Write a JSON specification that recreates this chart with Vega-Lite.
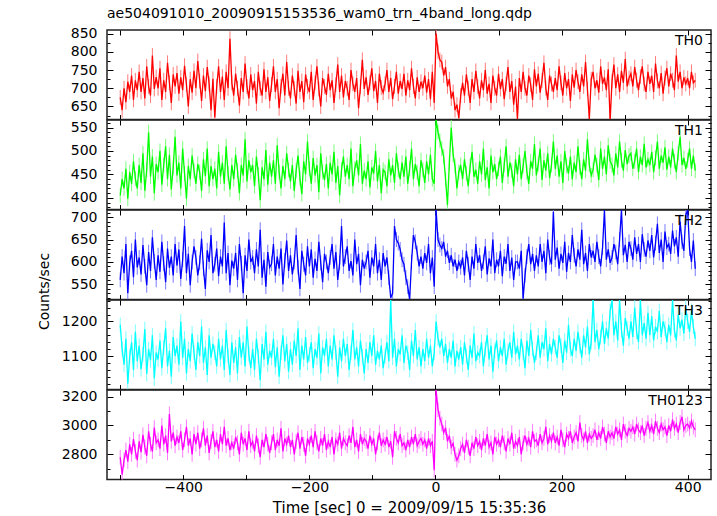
{
"$schema": "https://vega.github.io/schema/vega-lite/v6.json",
"padding": {"left": 36, "top": 5, "right": 5, "bottom": 2},
"spacing": 0,
"bounds": "flush",
"datasets": {"lc": [
{"t":-500,"a":675,"b":405,"c":560,"d":1190,"e":2780},
{"t":-497,"a":640,"b":440,"c":612,"d":1120,"e":2660},
{"t":-494,"a":700,"b":420,"c":575,"d":1075,"e":2760},
{"t":-491,"a":662,"b":462,"c":640,"d":1150,"e":2830},
{"t":-488,"a":718,"b":398,"c":530,"d":1020,"e":2750},
{"t":-485,"a":690,"b":455,"c":598,"d":1098,"e":2870},
{"t":-482,"a":735,"b":430,"c":625,"d":1140,"e":2800},
{"t":-479,"a":668,"b":478,"c":566,"d":1060,"e":2905},
{"t":-476,"a":722,"b":441,"c":650,"d":1170,"e":2820},
{"t":-473,"a":695,"b":420,"c":588,"d":1085,"e":2760},
{"t":-470,"a":745,"b":470,"c":610,"d":1130,"e":2890},
{"t":-467,"a":690,"b":432,"c":572,"d":1062,"e":2815},
{"t":-464,"a":728,"b":495,"c":638,"d":1105,"e":2935},
{"t":-461,"a":672,"b":415,"c":590,"d":1178,"e":2850},
{"t":-458,"a":760,"b":460,"c":548,"d":1048,"e":2790},
{"t":-455,"a":705,"b":540,"c":622,"d":1120,"e":2960},
{"t":-452,"a":680,"b":445,"c":580,"d":1088,"e":2870},
{"t":-449,"a":790,"b":488,"c":655,"d":1160,"e":2820},
{"t":-446,"a":698,"b":410,"c":601,"d":1035,"e":2985},
{"t":-443,"a":731,"b":472,"c":560,"d":1110,"e":2880},
{"t":-440,"a":700,"b":455,"c":615,"d":1090,"e":2900},
{"t":-437,"a":755,"b":500,"c":578,"d":1145,"e":2840},
{"t":-434,"a":668,"b":428,"c":645,"d":1065,"e":3000},
{"t":-431,"a":722,"b":470,"c":596,"d":1125,"e":2870},
{"t":-428,"a":690,"b":510,"c":555,"d":1180,"e":2930},
{"t":-425,"a":770,"b":440,"c":630,"d":1070,"e":2810},
{"t":-422,"a":715,"b":492,"c":587,"d":1115,"e":3080},
{"t":-419,"a":660,"b":418,"c":612,"d":1040,"e":2890},
{"t":-416,"a":738,"b":465,"c":570,"d":1155,"e":2950},
{"t":-413,"a":705,"b":530,"c":640,"d":1100,"e":2860},
{"t":-410,"a":742,"b":448,"c":592,"d":1130,"e":2920},
{"t":-407,"a":685,"b":475,"c":628,"d":1075,"e":2880},
{"t":-404,"a":730,"b":420,"c":562,"d":1200,"e":2960},
{"t":-401,"a":695,"b":505,"c":605,"d":1095,"e":2830},
{"t":-398,"a":762,"b":452,"c":680,"d":1150,"e":2900},
{"t":-395,"a":710,"b":398,"c":575,"d":1050,"e":2990},
{"t":-392,"a":650,"b":468,"c":618,"d":1120,"e":2860},
{"t":-389,"a":725,"b":440,"c":548,"d":1085,"e":2910},
{"t":-386,"a":688,"b":490,"c":600,"d":1165,"e":2800},
{"t":-383,"a":748,"b":458,"c":635,"d":1110,"e":2940},
{"t":-380,"a":700,"b":430,"c":610,"d":1060,"e":2870},
{"t":-377,"a":775,"b":472,"c":570,"d":1140,"e":2950},
{"t":-374,"a":720,"b":455,"c":598,"d":1100,"e":2840},
{"t":-371,"a":665,"b":415,"c":652,"d":1185,"e":2900},
{"t":-368,"a":735,"b":482,"c":585,"d":1080,"e":2980},
{"t":-365,"a":692,"b":446,"c":540,"d":1125,"e":2860},
{"t":-362,"a":758,"b":505,"c":626,"d":1045,"e":2930},
{"t":-359,"a":712,"b":425,"c":600,"d":1160,"e":2810},
{"t":-356,"a":640,"b":468,"c":660,"d":1095,"e":2890},
{"t":-353,"a":726,"b":440,"c":575,"d":1135,"e":2960},
{"t":-350,"a":620,"b":462,"c":595,"d":1110,"e":2850},
{"t":-347,"a":705,"b":420,"c":630,"d":1070,"e":2900},
{"t":-344,"a":760,"b":498,"c":568,"d":1150,"e":2820},
{"t":-341,"a":690,"b":445,"c":612,"d":1090,"e":2940},
{"t":-338,"a":732,"b":475,"c":590,"d":1130,"e":2870},
{"t":-335,"a":668,"b":430,"c":688,"d":1060,"e":2990},
{"t":-332,"a":745,"b":510,"c":575,"d":1175,"e":2860},
{"t":-329,"a":700,"b":452,"c":620,"d":1100,"e":2910},
{"t":-326,"a":836,"b":418,"c":548,"d":1045,"e":2830},
{"t":-323,"a":715,"b":470,"c":603,"d":1140,"e":2880},
{"t":-320,"a":680,"b":440,"c":585,"d":1080,"e":2840},
{"t":-317,"a":740,"b":492,"c":620,"d":1125,"e":2920},
{"t":-314,"a":700,"b":458,"c":560,"d":1050,"e":2880},
{"t":-311,"a":652,"b":410,"c":640,"d":1155,"e":2800},
{"t":-308,"a":728,"b":470,"c":597,"d":1095,"e":2950},
{"t":-305,"a":690,"b":448,"c":530,"d":1140,"e":2870},
{"t":-302,"a":768,"b":525,"c":615,"d":1070,"e":2910},
{"t":-299,"a":705,"b":435,"c":580,"d":1185,"e":2830},
{"t":-296,"a":672,"b":480,"c":650,"d":1105,"e":2960},
{"t":-293,"a":738,"b":455,"c":600,"d":1065,"e":2860},
{"t":-290,"a":695,"b":470,"c":610,"d":1120,"e":2890},
{"t":-287,"a":720,"b":425,"c":575,"d":1060,"e":2820},
{"t":-284,"a":658,"b":488,"c":628,"d":1150,"e":2930},
{"t":-281,"a":745,"b":450,"c":590,"d":1100,"e":2860},
{"t":-278,"a":700,"b":395,"c":672,"d":1030,"e":2780},
{"t":-275,"a":680,"b":465,"c":565,"d":1135,"e":2900},
{"t":-272,"a":752,"b":440,"c":605,"d":1090,"e":2850},
{"t":-269,"a":690,"b":502,"c":545,"d":1170,"e":2940},
{"t":-266,"a":730,"b":428,"c":622,"d":1075,"e":2870},
{"t":-263,"a":665,"b":475,"c":588,"d":1115,"e":2810},
{"t":-260,"a":710,"b":445,"c":596,"d":1095,"e":2880},
{"t":-257,"a":760,"b":480,"c":640,"d":1150,"e":2940},
{"t":-254,"a":690,"b":430,"c":570,"d":1068,"e":2830},
{"t":-251,"a":725,"b":512,"c":612,"d":1125,"e":2900},
{"t":-248,"a":645,"b":455,"c":585,"d":1040,"e":2860},
{"t":-245,"a":705,"b":420,"c":630,"d":1110,"e":2980},
{"t":-242,"a":740,"b":468,"c":550,"d":1160,"e":2820},
{"t":-239,"a":680,"b":440,"c":603,"d":1085,"e":2910},
{"t":-236,"a":772,"b":495,"c":648,"d":1135,"e":2870},
{"t":-233,"a":700,"b":460,"c":580,"d":1055,"e":2930},
{"t":-230,"a":672,"b":435,"c":615,"d":1120,"e":2850},
{"t":-227,"a":735,"b":470,"c":572,"d":1075,"e":2900},
{"t":-224,"a":700,"b":415,"c":600,"d":1145,"e":2800},
{"t":-221,"a":658,"b":458,"c":660,"d":1100,"e":2890},
{"t":-218,"a":748,"b":490,"c":588,"d":1180,"e":2950},
{"t":-215,"a":690,"b":442,"c":540,"d":1060,"e":2840},
{"t":-212,"a":720,"b":408,"c":625,"d":1130,"e":2920},
{"t":-209,"a":662,"b":478,"c":595,"d":1090,"e":2870},
{"t":-206,"a":738,"b":450,"c":570,"d":1155,"e":2790},
{"t":-203,"a":705,"b":520,"c":635,"d":1080,"e":2910},
{"t":-200,"a":690,"b":462,"c":590,"d":1105,"e":2870},
{"t":-197,"a":745,"b":430,"c":628,"d":1140,"e":2930},
{"t":-194,"a":668,"b":485,"c":565,"d":1065,"e":2850},
{"t":-191,"a":715,"b":448,"c":607,"d":1120,"e":2960},
{"t":-188,"a":760,"b":470,"c":580,"d":1095,"e":2880},
{"t":-185,"a":698,"b":412,"c":645,"d":1165,"e":2820},
{"t":-182,"a":650,"b":495,"c":598,"d":1050,"e":2910},
{"t":-179,"a":728,"b":455,"c":555,"d":1125,"e":2860},
{"t":-176,"a":705,"b":438,"c":618,"d":1100,"e":2940},
{"t":-173,"a":682,"b":472,"c":600,"d":1150,"e":2830},
{"t":-170,"a":740,"b":420,"c":575,"d":1070,"e":2890},
{"t":-167,"a":695,"b":475,"c":610,"d":1130,"e":2850},
{"t":-164,"a":722,"b":450,"c":640,"d":1090,"e":2920},
{"t":-161,"a":660,"b":498,"c":585,"d":1160,"e":2800},
{"t":-158,"a":710,"b":432,"c":622,"d":1110,"e":2900},
{"t":-155,"a":765,"b":468,"c":560,"d":1040,"e":2870},
{"t":-152,"a":690,"b":405,"c":598,"d":1125,"e":2950},
{"t":-149,"a":735,"b":460,"c":680,"d":1085,"e":2840},
{"t":-146,"a":675,"b":488,"c":590,"d":1150,"e":2910},
{"t":-143,"a":720,"b":445,"c":612,"d":1100,"e":2880},
{"t":-140,"a":700,"b":470,"c":635,"d":1135,"e":2860},
{"t":-137,"a":668,"b":440,"c":580,"d":1060,"e":2930},
{"t":-134,"a":750,"b":505,"c":602,"d":1110,"e":2880},
{"t":-131,"a":712,"b":425,"c":570,"d":1175,"e":2990},
{"t":-128,"a":690,"b":462,"c":650,"d":1090,"e":2850},
{"t":-125,"a":728,"b":480,"c":595,"d":1125,"e":2900},
{"t":-122,"a":645,"b":448,"c":618,"d":1070,"e":2820},
{"t":-119,"a":705,"b":515,"c":548,"d":1145,"e":2940},
{"t":-116,"a":778,"b":430,"c":605,"d":1100,"e":2870},
{"t":-113,"a":698,"b":458,"c":585,"d":1050,"e":2910},
{"t":-110,"a":730,"b":440,"c":600,"d":1120,"e":2890},
{"t":-107,"a":682,"b":478,"c":625,"d":1080,"e":2840},
{"t":-104,"a":715,"b":422,"c":565,"d":1140,"e":2930},
{"t":-101,"a":755,"b":465,"c":610,"d":1100,"e":2870},
{"t":-98,"a":692,"b":452,"c":590,"d":1160,"e":2910},
{"t":-95,"a":720,"b":500,"c":640,"d":1075,"e":2800},
{"t":-92,"a":660,"b":435,"c":575,"d":1115,"e":2880},
{"t":-89,"a":740,"b":470,"c":605,"d":1090,"e":2950},
{"t":-86,"a":702,"b":410,"c":560,"d":1130,"e":2860},
{"t":-83,"a":688,"b":460,"c":620,"d":1065,"e":2900},
{"t":-80,"a":712,"b":455,"c":590,"d":1100,"e":2870},
{"t":-77,"a":750,"b":425,"c":610,"d":1140,"e":2920},
{"t":-74,"a":690,"b":482,"c":565,"d":1085,"e":2850},
{"t":-71,"a":728,"b":448,"c":520,"d":1262,"e":2890},
{"t":-68,"a":670,"b":470,"c":530,"d":1095,"e":2780},
{"t":-65,"a":705,"b":432,"c":680,"d":1150,"e":2960},
{"t":-62,"a":745,"b":495,"c":650,"d":1070,"e":2910},
{"t":-59,"a":685,"b":460,"c":642,"d":1120,"e":2880},
{"t":-56,"a":720,"b":440,"c":628,"d":1105,"e":2940},
{"t":-53,"a":698,"b":475,"c":605,"d":1160,"e":2860},
{"t":-50,"a":740,"b":445,"c":595,"d":1080,"e":2880},
{"t":-47,"a":680,"b":488,"c":565,"d":1130,"e":2830},
{"t":-44,"a":722,"b":430,"c":545,"d":1110,"e":2900},
{"t":-41,"a":695,"b":462,"c":516,"d":1060,"e":2850},
{"t":-38,"a":755,"b":505,"c":600,"d":1145,"e":2920},
{"t":-35,"a":705,"b":440,"c":660,"d":1100,"e":2870},
{"t":-32,"a":672,"b":472,"c":645,"d":1175,"e":2940},
{"t":-29,"a":730,"b":455,"c":620,"d":1090,"e":2860},
{"t":-26,"a":690,"b":425,"c":590,"d":1125,"e":2890},
{"t":-23,"a":718,"b":480,"c":612,"d":1070,"e":2910},
{"t":-20,"a":700,"b":460,"c":585,"d":1120,"e":2870},
{"t":-17,"a":735,"b":432,"c":620,"d":1085,"e":2900},
{"t":-14,"a":688,"b":478,"c":598,"d":1150,"e":2840},
{"t":-11,"a":725,"b":450,"c":640,"d":1095,"e":2910},
{"t":-8,"a":670,"b":492,"c":575,"d":1130,"e":2860},
{"t":-5,"a":745,"b":440,"c":610,"d":1070,"e":2890},
{"t":-2,"a":660,"b":430,"c":545,"d":1110,"e":2690},
{"t":1,"a":850,"b":566,"c":716,"d":1200,"e":3246},
{"t":4,"a":800,"b":540,"c":650,"d":1150,"e":3110},
{"t":7,"a":778,"b":522,"c":638,"d":1125,"e":3050},
{"t":10,"a":772,"b":505,"c":630,"d":1150,"e":3010},
{"t":13,"a":735,"b":488,"c":645,"d":1100,"e":2950},
{"t":16,"a":758,"b":440,"c":612,"d":1135,"e":2985},
{"t":19,"a":705,"b":385,"c":625,"d":1080,"e":2890},
{"t":22,"a":725,"b":475,"c":598,"d":1120,"e":2930},
{"t":25,"a":672,"b":550,"c":615,"d":1095,"e":2850},
{"t":28,"a":690,"b":492,"c":590,"d":1145,"e":2875},
{"t":31,"a":640,"b":468,"c":605,"d":1070,"e":2800},
{"t":34,"a":655,"b":420,"c":580,"d":1115,"e":2760},
{"t":37,"a":618,"b":455,"c":600,"d":1090,"e":2790},
{"t":40,"a":680,"b":470,"c":588,"d":1125,"e":2840},
{"t":43,"a":715,"b":440,"c":610,"d":1075,"e":2870},
{"t":46,"a":680,"b":482,"c":570,"d":1140,"e":2810},
{"t":49,"a":738,"b":452,"c":625,"d":1100,"e":2900},
{"t":52,"a":700,"b":425,"c":595,"d":1060,"e":2850},
{"t":55,"a":660,"b":468,"c":560,"d":1130,"e":2790},
{"t":58,"a":725,"b":498,"c":612,"d":1095,"e":2880},
{"t":61,"a":690,"b":445,"c":585,"d":1165,"e":2840},
{"t":64,"a":748,"b":460,"c":640,"d":1085,"e":2920},
{"t":67,"a":705,"b":430,"c":598,"d":1110,"e":2860},
{"t":70,"a":672,"b":478,"c":615,"d":1100,"e":2890},
{"t":73,"a":722,"b":450,"c":580,"d":1140,"e":2830},
{"t":76,"a":695,"b":505,"c":600,"d":1070,"e":2910},
{"t":79,"a":750,"b":438,"c":635,"d":1120,"e":2860},
{"t":82,"a":685,"b":465,"c":572,"d":1160,"e":2940},
{"t":85,"a":712,"b":420,"c":608,"d":1090,"e":2850},
{"t":88,"a":660,"b":490,"c":590,"d":1130,"e":2880},
{"t":91,"a":735,"b":455,"c":650,"d":1055,"e":2800},
{"t":94,"a":700,"b":472,"c":575,"d":1115,"e":2920},
{"t":97,"a":680,"b":440,"c":605,"d":1145,"e":2870},
{"t":100,"a":740,"b":462,"c":590,"d":1085,"e":2900},
{"t":103,"a":698,"b":488,"c":625,"d":1125,"e":2850},
{"t":106,"a":725,"b":432,"c":568,"d":1100,"e":2930},
{"t":109,"a":670,"b":470,"c":612,"d":1150,"e":2880},
{"t":112,"a":712,"b":510,"c":596,"d":1075,"e":2820},
{"t":115,"a":758,"b":445,"c":640,"d":1115,"e":2910},
{"t":118,"a":690,"b":475,"c":580,"d":1140,"e":2870},
{"t":121,"a":720,"b":458,"c":610,"d":1095,"e":2950},
{"t":124,"a":655,"b":425,"c":560,"d":1170,"e":2840},
{"t":127,"a":705,"b":482,"c":600,"d":1105,"e":2890},
{"t":130,"a":615,"b":450,"c":600,"d":1130,"e":2860},
{"t":133,"a":728,"b":492,"c":585,"d":1090,"e":2920},
{"t":136,"a":690,"b":440,"c":625,"d":1150,"e":2800},
{"t":139,"a":745,"b":468,"c":518,"d":1110,"e":2880},
{"t":142,"a":700,"b":500,"c":570,"d":1065,"e":2930},
{"t":145,"a":680,"b":455,"c":612,"d":1145,"e":2870},
{"t":148,"a":735,"b":430,"c":640,"d":1100,"e":2910},
{"t":151,"a":710,"b":478,"c":595,"d":1175,"e":2850},
{"t":154,"a":668,"b":462,"c":618,"d":1120,"e":2960},
{"t":157,"a":752,"b":515,"c":580,"d":1080,"e":2890},
{"t":160,"a":705,"b":448,"c":615,"d":1110,"e":2900},
{"t":163,"a":740,"b":472,"c":590,"d":1160,"e":2860},
{"t":166,"a":688,"b":505,"c":640,"d":1095,"e":2940},
{"t":169,"a":722,"b":438,"c":600,"d":1140,"e":2880},
{"t":172,"a":770,"b":480,"c":625,"d":1120,"e":2910},
{"t":175,"a":700,"b":458,"c":575,"d":1180,"e":2990},
{"t":178,"a":668,"b":495,"c":650,"d":1085,"e":2870},
{"t":181,"a":735,"b":442,"c":610,"d":1135,"e":2930},
{"t":184,"a":712,"b":470,"c":595,"d":1105,"e":2890},
{"t":187,"a":690,"b":520,"c":712,"d":1150,"e":2950},
{"t":190,"a":728,"b":462,"c":605,"d":1125,"e":2880},
{"t":193,"a":695,"b":490,"c":632,"d":1095,"e":2920},
{"t":196,"a":760,"b":445,"c":585,"d":1160,"e":2860},
{"t":199,"a":715,"b":478,"c":618,"d":1130,"e":2970},
{"t":202,"a":680,"b":432,"c":598,"d":1080,"e":2900},
{"t":205,"a":742,"b":500,"c":645,"d":1145,"e":2850},
{"t":208,"a":700,"b":468,"c":578,"d":1110,"e":2940},
{"t":211,"a":725,"b":452,"c":620,"d":1190,"e":2910},
{"t":214,"a":665,"b":488,"c":600,"d":1120,"e":2960},
{"t":217,"a":738,"b":440,"c":660,"d":1100,"e":2880},
{"t":220,"a":702,"b":475,"c":615,"d":1150,"e":2920},
{"t":223,"a":750,"b":455,"c":590,"d":1115,"e":2950},
{"t":226,"a":718,"b":510,"c":628,"d":1170,"e":2890},
{"t":229,"a":690,"b":465,"c":605,"d":1130,"e":3020},
{"t":232,"a":738,"b":440,"c":672,"d":1095,"e":2930},
{"t":235,"a":705,"b":482,"c":595,"d":1160,"e":2900},
{"t":238,"a":772,"b":458,"c":620,"d":1125,"e":2960},
{"t":241,"a":698,"b":525,"c":580,"d":1185,"e":2880},
{"t":244,"a":615,"b":470,"c":640,"d":1105,"e":2940},
{"t":247,"a":725,"b":448,"c":610,"d":1140,"e":2910},
{"t":250,"a":745,"b":460,"c":625,"d":1262,"e":2930},
{"t":253,"a":700,"b":492,"c":600,"d":1140,"e":2970},
{"t":256,"a":722,"b":470,"c":645,"d":1175,"e":2900},
{"t":259,"a":688,"b":438,"c":612,"d":1120,"e":2950},
{"t":262,"a":760,"b":505,"c":590,"d":1155,"e":2910},
{"t":265,"a":712,"b":462,"c":632,"d":1200,"e":2990},
{"t":268,"a":730,"b":488,"c":716,"d":1135,"e":2940},
{"t":271,"a":695,"b":450,"c":605,"d":1180,"e":2880},
{"t":274,"a":752,"b":512,"c":628,"d":1150,"e":2960},
{"t":277,"a":610,"b":478,"c":598,"d":1230,"e":2920},
{"t":280,"a":720,"b":470,"c":610,"d":1262,"e":2950},
{"t":283,"a":765,"b":448,"c":640,"d":1160,"e":2910},
{"t":286,"a":700,"b":495,"c":622,"d":1200,"e":2990},
{"t":289,"a":738,"b":465,"c":595,"d":1145,"e":2940},
{"t":292,"a":690,"b":520,"c":650,"d":1262,"e":2970},
{"t":295,"a":748,"b":480,"c":716,"d":1175,"e":2900},
{"t":298,"a":715,"b":458,"c":615,"d":1130,"e":3010},
{"t":301,"a":780,"b":502,"c":638,"d":1210,"e":2960},
{"t":304,"a":705,"b":472,"c":600,"d":1180,"e":2930},
{"t":307,"a":728,"b":490,"c":645,"d":1150,"e":2980},
{"t":310,"a":740,"b":495,"c":630,"d":1200,"e":2960},
{"t":313,"a":705,"b":462,"c":605,"d":1155,"e":2990},
{"t":316,"a":758,"b":478,"c":655,"d":1240,"e":2940},
{"t":319,"a":722,"b":505,"c":618,"d":1170,"e":3010},
{"t":322,"a":695,"b":455,"c":640,"d":1140,"e":2970},
{"t":325,"a":732,"b":488,"c":600,"d":1262,"e":2950},
{"t":328,"a":760,"b":470,"c":662,"d":1160,"e":3000},
{"t":331,"a":712,"b":515,"c":628,"d":1195,"e":2930},
{"t":334,"a":690,"b":465,"c":612,"d":1150,"e":2980},
{"t":337,"a":745,"b":482,"c":648,"d":1225,"e":3020},
{"t":340,"a":712,"b":470,"c":625,"d":1160,"e":2960},
{"t":343,"a":735,"b":498,"c":660,"d":1215,"e":3000},
{"t":346,"a":690,"b":455,"c":610,"d":1145,"e":2940},
{"t":349,"a":768,"b":485,"c":642,"d":1185,"e":3030},
{"t":352,"a":720,"b":520,"c":685,"d":1170,"e":2980},
{"t":355,"a":700,"b":462,"c":620,"d":1230,"e":2950},
{"t":358,"a":742,"b":490,"c":650,"d":1155,"e":3010},
{"t":361,"a":685,"b":475,"c":600,"d":1200,"e":2970},
{"t":364,"a":728,"b":508,"c":668,"d":1180,"e":2990},
{"t":367,"a":755,"b":460,"c":632,"d":1140,"e":2930},
{"t":370,"a":705,"b":488,"c":640,"d":1190,"e":3000},
{"t":373,"a":740,"b":465,"c":618,"d":1160,"e":2960},
{"t":376,"a":722,"b":505,"c":670,"d":1262,"e":3040},
{"t":379,"a":695,"b":478,"c":635,"d":1175,"e":2980},
{"t":382,"a":790,"b":455,"c":655,"d":1145,"e":3010},
{"t":385,"a":718,"b":495,"c":612,"d":1220,"e":2950},
{"t":388,"a":745,"b":530,"c":690,"d":1180,"e":3020},
{"t":391,"a":700,"b":470,"c":645,"d":1205,"e":3060},
{"t":394,"a":730,"b":485,"c":625,"d":1165,"e":2970},
{"t":397,"a":712,"b":462,"c":705,"d":1240,"e":3000},
{"t":400,"a":728,"b":480,"c":716,"d":1200,"e":3010},
{"t":403,"a":700,"b":505,"c":630,"d":1170,"e":2980},
{"t":406,"a":745,"b":462,"c":600,"d":1230,"e":3030},
{"t":409,"a":715,"b":490,"c":648,"d":1185,"e":2990},
{"t":412,"a":722,"b":458,"c":585,"d":1150,"e":2970}
]},
"config": {
  "font": "DejaVu Sans",
  "view": {"stroke": "#222", "strokeWidth": 1.5},
  "axis": {"domain": false, "grid": false, "tickColor": "#000", "tickWidth": 1, "labelColor": "#000", "titleColor": "#000", "labelFont": "DejaVu Sans", "titleFont": "DejaVu Sans", "labelFontSize": 14, "titleFontSize": 14, "titleFontWeight": "normal", "labelOverlap": false, "labelFlush": false},
  "title": {"font": "DejaVu Sans", "fontSize": 14, "fontWeight": "normal", "color": "#000"}
},
"vconcat": [
{
  "width": 604, "height": 89.6,
  "title": {"text": "ae504091010_20090915153536_wam0_trn_4band_long.qdp", "anchor": "start", "frame": "group", "offset": 6},
  "data": {"name": "lc"},
  "layer": [
    {"mark": {"type": "point", "shape": "M0,-1L0,1", "size": 220, "filled": false, "strokeWidth": 1, "color": "#ff7a7a", "opacity": 1, "clip": true},
     "encoding": {
       "x": {"field": "t", "type": "quantitative", "scale": {"domain": [-521, 437], "nice": false, "zero": false},
             "axis": {"orient": "bottom", "values": [-500,-400,-300,-200,-100,0,100,200,300,400], "tickSize": -5, "labels": false, "title": null}},
       "y": {"field": "a", "type": "quantitative", "scale": {"domain": [614, 860], "nice": false, "zero": false},
             "axis": {"orient": "left", "format": "d", "values": [625,650,675,700,725,750,775,800,825,850], "tickSize": {"condition": {"test": "datum.value % 50 === 0", "value": -6}, "value": -3}, "labelExpr": "datum.value % 50 === 0 ? datum.label : ''", "labelPadding": 16, "title": null}}
     }},
    {"mark": {"type": "line", "color": "#ff0000", "strokeWidth": 1.3, "clip": true},
     "encoding": {
       "x": {"field": "t", "type": "quantitative", "axis": {"orient": "top", "values": [-500,-400,-300,-200,-100,0,100,200,300,400], "tickSize": -5, "labels": false, "title": null}},
       "y": {"field": "a", "type": "quantitative", "axis": {"orient": "right", "values": [625,650,675,700,725,750,775,800,825,850], "tickSize": {"condition": {"test": "datum.value % 50 === 0", "value": -6}, "value": -3}, "labels": false, "title": null}}
     }},
    {"data": {"values": [{"lab": "TH0"}]},
     "mark": {"type": "text", "align": "right", "baseline": "top", "dx": -8, "dy": 4, "fontSize": 14, "font": "DejaVu Sans", "color": "#000"},
     "encoding": {"text": {"field": "lab"}, "x": {"datum": 437, "type": "quantitative", "axis": null}, "y": {"datum": 860, "type": "quantitative", "axis": null}}}
  ],
  "resolve": {"axis": {"x": "independent", "y": "independent"}}
},
{
  "width": 604, "height": 89.6,
  "data": {"name": "lc"},
  "layer": [
    {"mark": {"type": "point", "shape": "M0,-1L0,1", "size": 220, "filled": false, "strokeWidth": 1, "color": "#7aff7a", "opacity": 1, "clip": true},
     "encoding": {
       "x": {"field": "t", "type": "quantitative", "scale": {"domain": [-521, 437], "nice": false, "zero": false},
             "axis": {"orient": "bottom", "values": [-500,-400,-300,-200,-100,0,100,200,300,400], "tickSize": -5, "labels": false, "title": null}},
       "y": {"field": "b", "type": "quantitative", "scale": {"domain": [375, 566], "nice": false, "zero": false},
             "axis": {"orient": "left", "format": "d", "values": [380,390,400,410,420,430,440,450,460,470,480,490,500,510,520,530,540,550,560], "tickSize": {"condition": {"test": "datum.value % 50 === 0", "value": -6}, "value": -3}, "labelExpr": "datum.value % 50 === 0 ? datum.label : ''", "labelPadding": 16, "title": null}}
     }},
    {"mark": {"type": "line", "color": "#00ff00", "strokeWidth": 1.3, "clip": true},
     "encoding": {
       "x": {"field": "t", "type": "quantitative", "axis": {"orient": "top", "values": [-500,-400,-300,-200,-100,0,100,200,300,400], "tickSize": -5, "labels": false, "title": null}},
       "y": {"field": "b", "type": "quantitative", "axis": {"orient": "right", "values": [380,390,400,410,420,430,440,450,460,470,480,490,500,510,520,530,540,550,560], "tickSize": {"condition": {"test": "datum.value % 50 === 0", "value": -6}, "value": -3}, "labels": false, "title": null}}
     }},
    {"data": {"values": [{"lab": "TH1"}]},
     "mark": {"type": "text", "align": "right", "baseline": "top", "dx": -8, "dy": 4, "fontSize": 14, "font": "DejaVu Sans", "color": "#000"},
     "encoding": {"text": {"field": "lab"}, "x": {"datum": 437, "type": "quantitative", "axis": null}, "y": {"datum": 566, "type": "quantitative", "axis": null}}}
  ],
  "resolve": {"axis": {"x": "independent", "y": "independent"}}
},
{
  "width": 604, "height": 89.6,
  "data": {"name": "lc"},
  "layer": [
    {"mark": {"type": "point", "shape": "M0,-1L0,1", "size": 220, "filled": false, "strokeWidth": 1, "color": "#7a7aff", "opacity": 1, "clip": true},
     "encoding": {
       "x": {"field": "t", "type": "quantitative", "scale": {"domain": [-521, 437], "nice": false, "zero": false},
             "axis": {"orient": "bottom", "values": [-500,-400,-300,-200,-100,0,100,200,300,400], "tickSize": -5, "labels": false, "title": null}},
       "y": {"field": "c", "type": "quantitative", "scale": {"domain": [516, 716], "nice": false, "zero": false},
             "axis": {"orient": "left", "format": "d", "values": [520,530,540,550,560,570,580,590,600,610,620,630,640,650,660,670,680,690,700,710], "tickSize": {"condition": {"test": "datum.value % 50 === 0", "value": -6}, "value": -3}, "labelExpr": "datum.value % 50 === 0 ? datum.label : ''", "labelPadding": 16,
                      "title": "Counts/sec", "titleFontSize": 14, "titleAngle": -90, "titleX": -59, "titleY": 81, "titleAlign": "center", "titleBaseline": "alphabetic"}}
     }},
    {"mark": {"type": "line", "color": "#0000ff", "strokeWidth": 1.3, "clip": true},
     "encoding": {
       "x": {"field": "t", "type": "quantitative", "axis": {"orient": "top", "values": [-500,-400,-300,-200,-100,0,100,200,300,400], "tickSize": -5, "labels": false, "title": null}},
       "y": {"field": "c", "type": "quantitative", "axis": {"orient": "right", "values": [520,530,540,550,560,570,580,590,600,610,620,630,640,650,660,670,680,690,700,710], "tickSize": {"condition": {"test": "datum.value % 50 === 0", "value": -6}, "value": -3}, "labels": false, "title": null}}
     }},
    {"data": {"values": [{"lab": "TH2"}]},
     "mark": {"type": "text", "align": "right", "baseline": "top", "dx": -8, "dy": 4, "fontSize": 14, "font": "DejaVu Sans", "color": "#000"},
     "encoding": {"text": {"field": "lab"}, "x": {"datum": 437, "type": "quantitative", "axis": null}, "y": {"datum": 716, "type": "quantitative", "axis": null}}}
  ],
  "resolve": {"axis": {"x": "independent", "y": "independent"}}
},
{
  "width": 604, "height": 89.6,
  "data": {"name": "lc"},
  "layer": [
    {"mark": {"type": "point", "shape": "M0,-1L0,1", "size": 220, "filled": false, "strokeWidth": 1, "color": "#7affff", "opacity": 1, "clip": true},
     "encoding": {
       "x": {"field": "t", "type": "quantitative", "scale": {"domain": [-521, 437], "nice": false, "zero": false},
             "axis": {"orient": "bottom", "values": [-500,-400,-300,-200,-100,0,100,200,300,400], "tickSize": -5, "labels": false, "title": null}},
       "y": {"field": "d", "type": "quantitative", "scale": {"domain": [1003, 1262], "nice": false, "zero": false},
             "axis": {"orient": "left", "format": "d", "values": [1020,1040,1060,1080,1100,1120,1140,1160,1180,1200,1220,1240,1260], "tickSize": {"condition": {"test": "datum.value % 100 === 0", "value": -6}, "value": -3}, "labelExpr": "datum.value % 100 === 0 ? datum.label : ''", "labelPadding": 16, "title": null}}
     }},
    {"mark": {"type": "line", "color": "#00ffff", "strokeWidth": 1.3, "clip": true},
     "encoding": {
       "x": {"field": "t", "type": "quantitative", "axis": {"orient": "top", "values": [-500,-400,-300,-200,-100,0,100,200,300,400], "tickSize": -5, "labels": false, "title": null}},
       "y": {"field": "d", "type": "quantitative", "axis": {"orient": "right", "values": [1020,1040,1060,1080,1100,1120,1140,1160,1180,1200,1220,1240,1260], "tickSize": {"condition": {"test": "datum.value % 100 === 0", "value": -6}, "value": -3}, "labels": false, "title": null}}
     }},
    {"data": {"values": [{"lab": "TH3"}]},
     "mark": {"type": "text", "align": "right", "baseline": "top", "dx": -8, "dy": 4, "fontSize": 14, "font": "DejaVu Sans", "color": "#000"},
     "encoding": {"text": {"field": "lab"}, "x": {"datum": 437, "type": "quantitative", "axis": null}, "y": {"datum": 1262, "type": "quantitative", "axis": null}}}
  ],
  "resolve": {"axis": {"x": "independent", "y": "independent"}}
},
{
  "width": 604, "height": 89.6,
  "data": {"name": "lc"},
  "layer": [
    {"mark": {"type": "point", "shape": "M0,-1L0,1", "size": 220, "filled": false, "strokeWidth": 1, "color": "#ff7aff", "opacity": 1, "clip": true},
     "encoding": {
       "x": {"field": "t", "type": "quantitative", "scale": {"domain": [-521, 437], "nice": false, "zero": false},
             "axis": {"orient": "bottom", "values": [-500,-400,-300,-200,-100,0,100,200,300,400], "tickSize": -5, "labels": true, "labelExpr": "datum.value % 200 === 0 ? datum.label : ''", "labelPadding": 6, "title": "Time [sec] 0 = 2009/09/15 15:35:36", "titleFontSize": 15, "titlePadding": 6}},
       "y": {"field": "e", "type": "quantitative", "scale": {"domain": [2625, 3246], "nice": false, "zero": false},
             "axis": {"orient": "left", "format": "d", "values": [2700,2800,2900,3000,3100,3200], "tickSize": {"condition": {"test": "datum.value % 200 === 0", "value": -6}, "value": -3}, "labelExpr": "datum.value % 200 === 0 ? datum.label : ''", "labelPadding": 16, "title": null}}
     }},
    {"mark": {"type": "line", "color": "#ff00ff", "strokeWidth": 1.3, "clip": true},
     "encoding": {
       "x": {"field": "t", "type": "quantitative", "axis": {"orient": "top", "values": [-500,-400,-300,-200,-100,0,100,200,300,400], "tickSize": -5, "labels": false, "title": null}},
       "y": {"field": "e", "type": "quantitative", "axis": {"orient": "right", "values": [2700,2800,2900,3000,3100,3200], "tickSize": {"condition": {"test": "datum.value % 200 === 0", "value": -6}, "value": -3}, "labels": false, "title": null}}
     }},
    {"data": {"values": [{"lab": "TH0123"}]},
     "mark": {"type": "text", "align": "right", "baseline": "top", "dx": -8, "dy": 4, "fontSize": 14, "font": "DejaVu Sans", "color": "#000"},
     "encoding": {"text": {"field": "lab"}, "x": {"datum": 437, "type": "quantitative", "axis": null}, "y": {"datum": 3246, "type": "quantitative", "axis": null}}}
  ],
  "resolve": {"axis": {"x": "independent", "y": "independent"}}
}
]
}
